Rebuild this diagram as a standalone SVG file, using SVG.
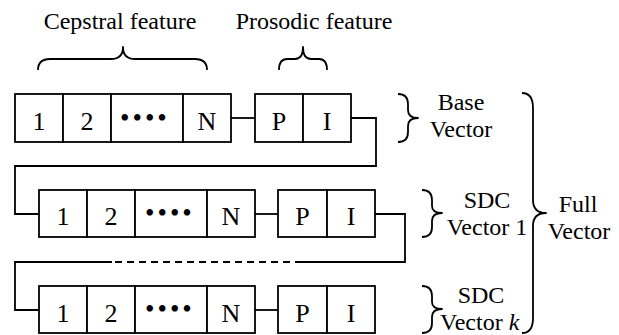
<svg xmlns="http://www.w3.org/2000/svg" width="619" height="335" viewBox="0 0 619 335">
  <style>
    .cell { fill: #fff; stroke: #000; stroke-width: 1.8; }
    .wire { fill: none; stroke: #000; stroke-width: 1.8; }
    .brace { fill: none; stroke: #000; stroke-width: 1.8; stroke-linejoin: round; }
    .t { font-family: 'Liberation Serif', 'DejaVu Serif', serif; font-size: 24px; fill: #000; }
    .c { text-anchor: middle; }
    .k { font-size: 26px; }
    .dots { font-size: 27px; letter-spacing: 3px; }
  </style>

  <!-- feature group captions and their braces -->
  <g id="cepstral-label">
    <text class="t c" x="120" y="29">Cepstral feature</text>
    <path class="brace" d="M38 70 Q38 59 50 59 L111 59 Q123 59 123 47 Q123 59 135 59 L195 59 Q207 59 207 70"/>
  </g>
  <g id="prosodic-label">
    <text class="t c" x="314" y="29">Prosodic feature</text>
    <path class="brace" d="M279 70 Q279 59 287 59 L295 59 Q303 59 303 47 Q303 59 311 59 L319 59 Q327 59 327 70"/>
  </g>

  <!-- base vector -->
  <g id="base-vector">
    <rect class="cell" x="15" y="94" width="48" height="48"/>
    <rect class="cell" x="63" y="94" width="48" height="48"/>
    <rect class="cell" x="111" y="94" width="72" height="48"/>
    <rect class="cell" x="183" y="94" width="48" height="48"/>
    <rect class="cell" x="255" y="94" width="48" height="48"/>
    <rect class="cell" x="303" y="94" width="48" height="48"/>
    <text class="t c k" x="39" y="130">1</text>
    <text class="t c k" x="87" y="130">2</text>
    <text class="t dots" x="120" y="127">••••</text>
    <text class="t c k" x="207" y="130">N</text>
    <text class="t c k" x="279" y="130">P</text>
    <text class="t c k" x="327" y="130">I</text>
  </g>

  <!-- SDC vector 1 -->
  <g id="sdc-vector-1">
    <rect class="cell" x="39" y="190" width="48" height="47"/>
    <rect class="cell" x="87" y="190" width="48" height="47"/>
    <rect class="cell" x="135" y="190" width="72" height="47"/>
    <rect class="cell" x="207" y="190" width="48" height="47"/>
    <rect class="cell" x="278" y="190" width="49" height="47"/>
    <rect class="cell" x="327" y="190" width="48" height="47"/>
    <text class="t c k" x="63" y="225">1</text>
    <text class="t c k" x="111" y="225">2</text>
    <text class="t dots" x="145" y="222">••••</text>
    <text class="t c k" x="231" y="225">N</text>
    <text class="t c k" x="302.5" y="225">P</text>
    <text class="t c k" x="351" y="225">I</text>
  </g>

  <!-- SDC vector k -->
  <g id="sdc-vector-k">
    <rect class="cell" x="39" y="286" width="48" height="47"/>
    <rect class="cell" x="87" y="286" width="48" height="47"/>
    <rect class="cell" x="135" y="286" width="72" height="47"/>
    <rect class="cell" x="207" y="286" width="48" height="47"/>
    <rect class="cell" x="278" y="286" width="49" height="47"/>
    <rect class="cell" x="327" y="286" width="48" height="47"/>
    <text class="t c k" x="63" y="322">1</text>
    <text class="t c k" x="111" y="322">2</text>
    <text class="t dots" x="145" y="318">••••</text>
    <text class="t c k" x="231" y="322">N</text>
    <text class="t c k" x="302.5" y="322">P</text>
    <text class="t c k" x="351" y="322">I</text>
  </g>

  <!-- right-hand labels -->
  <g id="base-label">
    <path class="brace" d="M398 94 Q408 94 408 104 L408 110 Q408 118 418 118 Q408 118 408 126 L408 132 Q408 142 398 142"/>
    <text class="t c" x="461" y="110">Base</text>
    <text class="t c" x="461" y="137">Vector</text>
  </g>
  <g id="sdc1-label">
    <path class="brace" d="M422 190 Q432 190 432 200 L432 206 Q432 213 442 213 Q432 213 432 221 L432 227 Q432 237 422 237"/>
    <text class="t c" x="487" y="208">SDC</text>
    <text class="t c" x="487" y="235">Vector 1</text>
  </g>
  <g id="sdck-label">
    <path class="brace" d="M422 286 Q432 286 432 296 L432 302 Q432 309 442 309 Q432 309 432 317 L432 323 Q432 333 422 333"/>
    <text class="t c" x="481" y="303">SDC</text>
    <text class="t" x="440" y="330">Vector <tspan font-style="italic">k</tspan></text>
  </g>
  <g id="full-label">
    <path class="brace" d="M522 93 Q533 93 533 108 L533 200 Q533 213 546 213 Q533 213 533 226 L533 318 Q533 333 522 333"/>
    <text class="t c" x="578" y="212">Full</text>
    <text class="t c" x="579" y="239">Vector</text>
  </g>

  <!-- connectors -->
  <g id="connectors">
    <path class="wire" d="M231 118 H255"/>
    <path class="wire" d="M351 118 H376 V166 H15 V214 H39"/>
    <path class="wire" d="M255 214 H278"/>
    <path class="wire" d="M375 214 H405 V262 H302"/>
    <path class="wire" d="M302 262 H112" stroke-dasharray="7 5"/>
    <path class="wire" d="M112 262 H15 V310 H39"/>
    <path class="wire" d="M255 310 H278"/>
  </g>
</svg>
